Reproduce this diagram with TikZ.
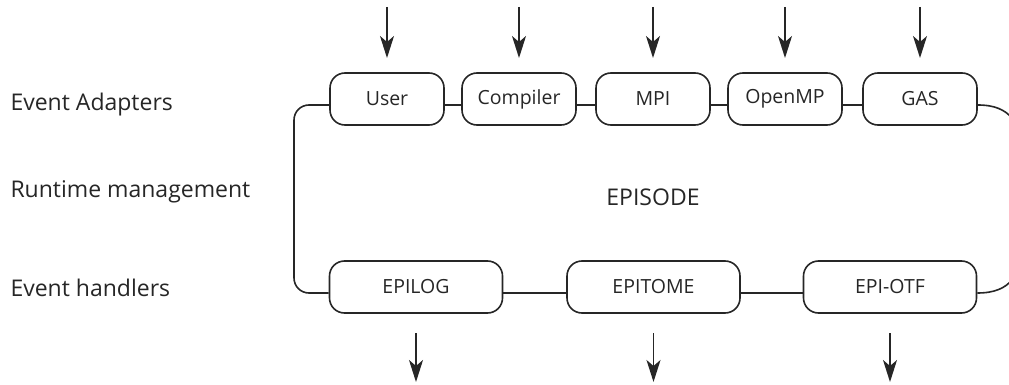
\documentclass[tikz,border=0pt]{standalone}
\usepackage{fontspec}
\setmainfont{Open Sans}
\usetikzlibrary{arrows.meta}
\begin{document}
\begin{tikzpicture}[x=1pt,y=-1pt,
  box/.style={draw=black!85,line width=1.6pt,rounded corners=15pt,minimum height=52pt,inner sep=0pt,font=\fontsize{19.5}{19.5}\selectfont,text=black!85},
  sbox/.style={box,minimum width=114pt},
  wbox/.style={box,minimum width=173pt},
  conn/.style={draw=black!85,line width=1.6pt},
  arr/.style={draw=black!85,line width=1.6pt,-{Stealth[length=22pt,width=14pt,inset=6pt]}},
  lab/.style={font=\fontsize{23}{23}\selectfont,text=black!85,anchor=west}]
\useasboundingbox (0,0) rectangle (1009,385);
% top boxes
\node[sbox] (user) at (387,99) {User};
\node[sbox] (comp) at (519,99) {Compiler};
\node[sbox] (mpi) at (653,99) {MPI};
\node[sbox] (omp) at (785,99) {OpenMP};
\node[sbox] (gas) at (920,99) {GAS};
% bottom boxes
\node[wbox] (log) at (416,287) {EPILOG};
\node[wbox] (tome) at (653.5,287) {EPITOME};
\node[wbox] (otf) at (890,287) {EPI-OTF};
% labels
\node[lab] (l1) at (7,105) {Event Adapters};
\node[lab] (l2) at (7,192) {Runtime management};
\node[lab] (l3) at (7,288) {Event handlers};
\node[font=\fontsize{23}{23}\selectfont,text=black!85] (ep) at (653,197) {EPISODE};
% connectors top
\foreach \a/\b in {user/comp,comp/mpi,mpi/omp,omp/gas}
  \draw[conn] ([yshift=-6pt]\a.east) -- ([yshift=-6pt]\b.east -| \b.west);
\foreach \a/\b in {log/tome,tome/otf}
  \draw[conn] ([yshift=-6pt]\a.east) -- ([yshift=-6pt]\b.east -| \b.west);
% left loop
\draw[conn,rounded corners=15pt] ([yshift=-6pt]user.west) -- (294,105) -- (294,293) -- ([yshift=-6pt]log.west);
% right exits
\coordinate (rt) at (1012,118);
\coordinate (rb) at (1012,280);
\draw[conn] ([yshift=-6pt]gas.east) .. controls (995,105) and (1005,110) .. (rt);
\draw[conn] ([yshift=-6pt]otf.east) .. controls (995,293) and (1005,288) .. (rb);
% arrows
\foreach \n in {user,comp,mpi,omp,gas}
  \draw[arr] (\n.north |- 0,7) -- (\n.north |- 0,58);
\foreach \n in {log,tome,otf}
  \draw[arr] (\n.south |- 0,333) -- (\n.south |- 0,382);
\end{tikzpicture}
\end{document}
